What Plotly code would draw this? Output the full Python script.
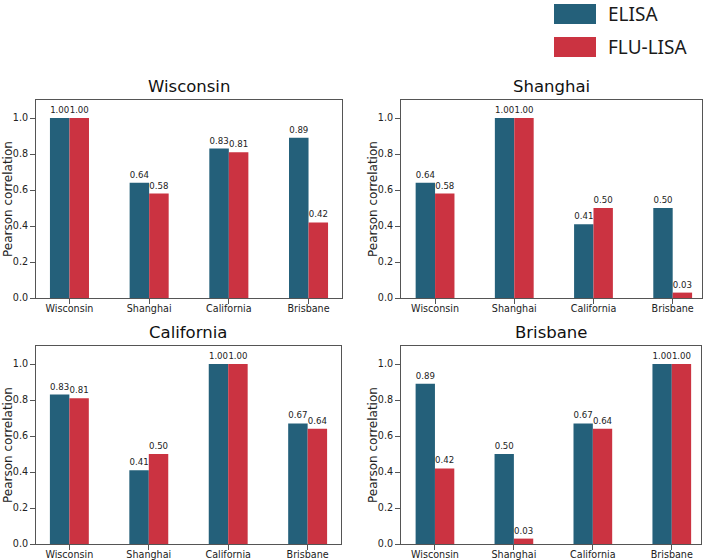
import plotly.graph_objects as go
from plotly.subplots import make_subplots

#################
# Data
#################
cities = ["Wisconsin", "Shanghai", "California", "Brisbane"]

elisa_wisconsin = [1.00, 0.64, 0.83, 0.89]
flulisa_wisconsin = [1.00, 0.58, 0.81, 0.42]

elisa_shanghai = [0.64, 1.00, 0.41, 0.50]
flulisa_shanghai = [0.58, 1.00, 0.50, 0.03]

elisa_california = [0.83, 0.41, 1.00, 0.67]
flulisa_california = [0.81, 0.50, 1.00, 0.64]

elisa_brisbane = [0.89, 0.50, 0.67, 1.00]
flulisa_brisbane = [0.42, 0.03, 0.64, 1.00]

y_ticks = [0.0, 0.2, 0.4, 0.6, 0.8, 1.0]

panels = [
    ("Wisconsin", elisa_wisconsin, flulisa_wisconsin, 1, 1),
    ("Shanghai", elisa_shanghai, flulisa_shanghai, 1, 2),
    ("California", elisa_california, flulisa_california, 2, 1),
    ("Brisbane", elisa_brisbane, flulisa_brisbane, 2, 2),
]

elisa_colour = "#24607a"
flulisa_colour = "#cb3341"
W, H = 709, 560

#################
# Figure
#################
fig = make_subplots(rows=2, cols=2)

bar_text = dict(
    texttemplate="%{y:.2f}",
    textposition="outside",
    constraintext="none",
    textangle=0,
    cliponaxis=False,
    textfont=dict(family="DejaVu Sans", size=8.6, color="#222"),
    showlegend=False,
)

for title, elisa, flulisa, r, c in panels:
    fig.add_trace(go.Bar(x=cities, y=elisa, name="ELISA",
                         marker=dict(color=elisa_colour, line=dict(width=0)), **bar_text),
                  row=r, col=c)
    fig.add_trace(go.Bar(x=cities, y=flulisa, name="FLU-LISA",
                         marker=dict(color=flulisa_colour, line=dict(width=0)), **bar_text),
                  row=r, col=c)

# pixel boxes of the four axes (left, right, top, bottom)
boxes = {
    (1, 1): (36, 342, 100, 298),
    (1, 2): (401, 702, 100, 298),
    (2, 1): (36, 341, 346, 544),
    (2, 2): (401, 701, 346, 544),
}
x_ranges = {1: [-0.42, 3.42], 2: [-0.43, 3.37]}

axis_style = dict(
    showline=True, linecolor="#555", linewidth=1, mirror=True,
    ticks="outside", ticklen=5, tickcolor="#555", tickwidth=1,
    showgrid=False, zeroline=False, automargin=False,
    tickfont=dict(family="DejaVu Sans", size=9.6, color="#222"),
)

for title, elisa, flulisa, r, c in panels:
    left, right, top, bottom = boxes[(r, c)]
    fig.update_xaxes(domain=[left / W, right / W], range=x_ranges[c],
                     type="category", ticklabelstandoff=-4, row=r, col=c, **axis_style)
    fig.update_yaxes(domain=[1 - bottom / H, 1 - top / H], range=[0, 1.1],
                     tickvals=y_ticks, tickformat=".1f", row=r, col=c, **axis_style)
    # panel title
    fig.add_annotation(text=title, xref="paper", yref="paper",
                       x=(left + right) / 2 / W, y=1 - top / H,
                       xanchor="center", yanchor="bottom", yshift=2, showarrow=False,
                       font=dict(family="DejaVu Sans", size=16.5, color="#111"))
    # y axis title
    fig.add_annotation(text="Pearson correlation", xref="paper", yref="paper",
                       x=(left - 28) / W, y=1 - (top + bottom) / 2 / H,
                       xanchor="center", yanchor="middle", textangle=-90, showarrow=False,
                       font=dict(family="DejaVu Sans", size=12, color="#222"))

# legend drawn as patches + labels in the top right corner
legend_items = [("ELISA", elisa_colour, 4, 24), ("FLU-LISA", flulisa_colour, 37, 57)]
for label, colour, y0, y1 in legend_items:
    fig.add_shape(type="rect", xref="paper", yref="paper",
                  x0=554 / W, x1=596 / W, y0=1 - y1 / H, y1=1 - y0 / H,
                  fillcolor=colour, line=dict(width=0))
    fig.add_annotation(text=label, xref="paper", yref="paper",
                       x=606 / W, y=1 - (y0 + y1) / 2 / H,
                       xanchor="left", yanchor="middle", showarrow=False,
                       font=dict(family="Noto Sans", size=19, color="#1a1a1a"))

fig.update_layout(
    width=W, height=H,
    margin=dict(l=0, r=0, t=0, b=0),
    barmode="group", bargap=0.51, bargroupgap=0,
    plot_bgcolor="white", paper_bgcolor="white",
    showlegend=False,
)

# drop the browser's default page margin so the figure sits at the window corner
fig.write_html("out.html", config={"displayModeBar": False},
               post_script="document.body.style.margin = '0';")
